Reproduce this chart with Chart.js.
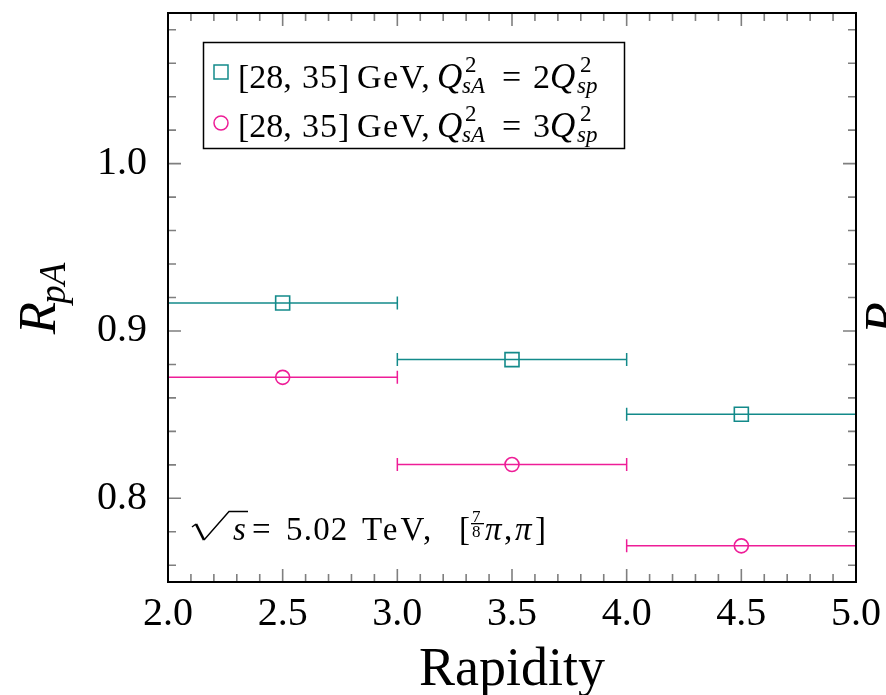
<!DOCTYPE html>
<html>
<head>
<meta charset="utf-8">
<script src="https://cdn.jsdelivr.net/npm/chart.js@4.4.1/dist/chart.umd.min.js"></script>
<style>
  body { margin: 0; background: #fff; }
  canvas { display: block; }
</style>
</head>
<body>
<canvas id="rpa" width="886" height="695"></canvas>
<script>
// rapidity bins and R_pA values
const binLow = [2.0, 3.0, 4.0];
const binHigh = [3.0, 4.0, 5.0];
const binCenter = [2.5, 3.5, 4.5];
const rpaQ2 = [0.9167, 0.8829, 0.8502];   // Q2_sA = 2 Q2_sp
const rpaQ3 = [0.8723, 0.8202, 0.7716];   // Q2_sA = 3 Q2_sp

const xTicks = [2.0, 2.5, 3.0, 3.5, 4.0, 4.5, 5.0];
const yTicks = [0.8, 0.9, 1.0];

const TEAL = '#138a8a';
const PINK = '#ee1d97';
const SERIF = '"Liberation Serif", "DejaVu Serif", serif';

// text pieces placed at their own x; dy shifts for sub/superscripts, ls widens letters
function drawPieces(ctx, ox, oy, pieces) {
  for (const p of pieces) {
    ctx.font = (p.it ? 'italic ' : '') + p.sz + 'px ' + SERIF;
    ctx.letterSpacing = (p.ls || 0) + 'px';
    ctx.fillText(p.t, ox + p.x, oy + (p.dy || 0));
  }
  ctx.letterSpacing = '0px';
}

function legendRow(n) {
  return [
    { t: '[28,', x: 0, sz: 34 },
    { t: '35]', x: 64, sz: 34, ls: 1 },
    { t: 'GeV,', x: 119, sz: 34, ls: 1.5 },
    { t: 'Q', x: 199, sz: 35, it: true },
    { t: '2', x: 227, sz: 23, dy: -16 },
    { t: 'sA', x: 224, sz: 23, dy: 5, it: true },
    { t: '=', x: 264, sz: 34, ls: 0 },
    { t: n, x: 295, sz: 34 },
    { t: 'Q', x: 312, sz: 35, it: true },
    { t: '2', x: 342, sz: 23, dy: -16 },
    { t: 'sp', x: 339, sz: 23, dy: 5, it: true }
  ];
}

const notePieces = [
  { t: 's', x: 41, sz: 33, it: true },
  { t: '=', x: 60, sz: 33 },
  { t: '5.02', x: 94, sz: 33, ls: 1.2 },
  { t: 'TeV,', x: 170, sz: 33, ls: 3 },
  { t: '[', x: 267, sz: 33 },
  { t: '7', x: 280, sz: 17, dy: -18 },
  { t: '8', x: 280, sz: 17, dy: -3 },
  { t: '\u03C0', x: 293, sz: 33, it: true },
  { t: ',', x: 312, sz: 33 },
  { t: '\u03C0', x: 323, sz: 33, it: true },
  { t: ']', x: 343, sz: 33 }
];

// x error bars (bin widths) drawn under the markers
const binBars = {
  id: 'binBars',
  beforeDatasetsDraw(chart) {
    const { ctx, scales: { x, y } } = chart;
    ctx.save();
    chart.data.datasets.forEach(ds => {
      ctx.strokeStyle = ds.borderColor;
      ctx.lineWidth = 1.5;
      ds.data.forEach((pt, j) => {
        const x1 = x.getPixelForValue(ds.errLow[j]);
        const x2 = x.getPixelForValue(ds.errHigh[j]);
        const py = y.getPixelForValue(pt.y);
        ctx.beginPath();
        ctx.moveTo(x1, py); ctx.lineTo(x2, py);
        ctx.moveTo(x1, py - 6.5); ctx.lineTo(x1, py + 6.5);
        ctx.moveTo(x2, py - 6.5); ctx.lineTo(x2, py + 6.5);
        ctx.stroke();
      });
    });
    ctx.restore();
  }
};

// inward ticks on all four sides, frame, legend and labels
const frame = {
  id: 'frame',
  afterDraw(chart) {
    const { ctx, chartArea: a, scales: { x, y } } = chart;
    ctx.save();
    ctx.strokeStyle = '#7f7f7f';
    ctx.lineWidth = 1.6;
    ctx.beginPath();
    for (let k = 1; k < 30; k++) {
      const px = x.getPixelForValue(2 + k * 0.1);
      const len = k % 5 === 0 ? 13 : 8;
      ctx.moveTo(px, a.bottom); ctx.lineTo(px, a.bottom - len);
      ctx.moveTo(px, a.top); ctx.lineTo(px, a.top + len);
    }
    for (let k = 38; k <= 54; k++) {
      const py = y.getPixelForValue(k * 0.02);
      const len = k % 5 === 0 ? 13 : 8;
      ctx.moveTo(a.left, py); ctx.lineTo(a.left + len, py);
      ctx.moveTo(a.right, py); ctx.lineTo(a.right - len, py);
    }
    ctx.stroke();

    ctx.strokeStyle = '#000';
    ctx.lineWidth = 2;
    ctx.strokeRect(a.left, a.top, a.right - a.left, a.bottom - a.top);

    // legend
    ctx.lineWidth = 1.5;
    ctx.strokeRect(203.5, 42.5, 421, 106);
    ctx.fillStyle = '#000';
    ctx.textBaseline = 'alphabetic';
    ctx.textAlign = 'left';
    drawPieces(ctx, 238, 88, legendRow('2'));
    drawPieces(ctx, 238, 137, legendRow('3'));
    ctx.lineWidth = 1.5;
    ctx.strokeStyle = TEAL;
    ctx.strokeRect(214, 65, 14, 14);
    ctx.strokeStyle = PINK;
    ctx.beginPath();
    ctx.arc(221, 123, 7, 0, Math.PI * 2);
    ctx.stroke();

    // sqrt(s) = 5.02 TeV, [7/8 pi, pi]
    ctx.strokeStyle = '#000';
    ctx.lineJoin = 'miter';
    ctx.lineWidth = 1.4;
    ctx.beginPath();
    ctx.moveTo(192, 527); ctx.lineTo(196, 524);
    ctx.stroke();
    ctx.lineWidth = 2.6;
    ctx.beginPath();
    ctx.moveTo(196, 524); ctx.lineTo(204, 540);
    ctx.stroke();
    ctx.lineWidth = 1.4;
    ctx.beginPath();
    ctx.moveTo(204, 540); ctx.lineTo(229, 511.5); ctx.lineTo(248, 511.5);
    ctx.stroke();
    drawPieces(ctx, 192, 540, notePieces);
    ctx.fillRect(471, 523, 13, 1.3);

    // axis titles
    ctx.font = '54px ' + SERIF;
    ctx.textAlign = 'center';
    ctx.fillText('Rapidity', (a.left + a.right) / 2, 685);
    ctx.textAlign = 'left';

    const cy = (a.top + a.bottom) / 2;
    ctx.font = 'italic 53px ' + SERIF;
    const rw = ctx.measureText('R').width;
    ctx.font = 'italic 37px ' + SERIF;
    const sw = ctx.measureText('pA').width;
    [55, 901].forEach(bx => {
      ctx.save();
      ctx.translate(bx, cy);
      ctx.rotate(-Math.PI / 2);
      const sx = -(rw + sw) / 2;
      ctx.font = 'italic 53px ' + SERIF;
      ctx.fillText('R', sx, 0);
      ctx.font = 'italic 37px ' + SERIF;
      ctx.fillText('pA', sx + rw - 2, 10);
      ctx.restore();
    });
    ctx.restore();
  }
};

const tickFont = { family: SERIF, size: 40 };

new Chart(document.getElementById('rpa'), {
  type: 'scatter',
  data: {
    datasets: [
      {
        label: '[28, 35] GeV, Q2sA = 2Q2sp',
        data: binCenter.map((v, i) => ({ x: v, y: rpaQ2[i] })),
        errLow: binLow, errHigh: binHigh,
        pointStyle: 'rect', pointRadius: 9.9, pointBorderWidth: 1.6,
        borderColor: TEAL, backgroundColor: 'rgba(0,0,0,0)'
      },
      {
        label: '[28, 35] GeV, Q2sA = 3Q2sp',
        data: binCenter.map((v, i) => ({ x: v, y: rpaQ3[i] })),
        errLow: binLow, errHigh: binHigh,
        pointStyle: 'circle', pointRadius: 7, pointBorderWidth: 1.6,
        borderColor: PINK, backgroundColor: 'rgba(0,0,0,0)'
      }
    ]
  },
  options: {
    responsive: false,
    animation: false,
    layout: { padding: { top: 13, right: 30, left: 0, bottom: 0 } },
    plugins: { legend: { display: false }, tooltip: { enabled: false } },
    scales: {
      x: {
        type: 'linear', min: 2, max: 5,
        afterBuildTicks: s => { s.ticks = xTicks.map(v => ({ value: v })); },
        afterFit: s => { s.height = 113; s.paddingLeft = 0; s.paddingRight = 0; },
        ticks: { font: tickFont, color: '#000', padding: 0, maxRotation: 0, callback: v => v.toFixed(1) },
        grid: { display: false },
        border: { display: false }
      },
      y: {
        type: 'linear', min: 0.75, max: 1.09,
        afterBuildTicks: s => { s.ticks = yTicks.map(v => ({ value: v })); },
        afterFit: s => { s.width = 168; s.paddingTop = 0; s.paddingBottom = 0; },
        ticks: { font: tickFont, color: '#000', padding: 13, callback: v => v.toFixed(1) },
        grid: { display: false },
        border: { display: false }
      }
    }
  },
  plugins: [binBars, frame]
});
</script>
</body>
</html>
